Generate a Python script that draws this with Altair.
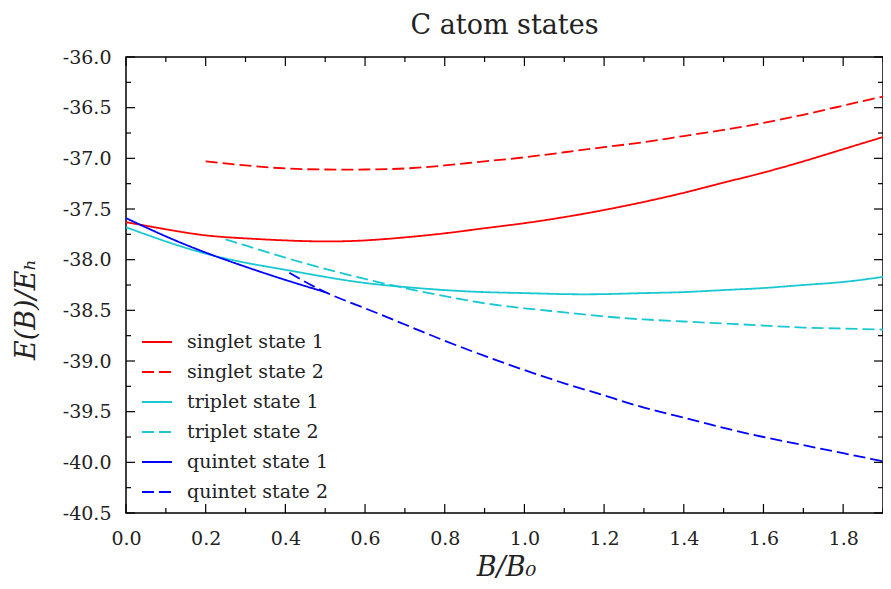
import altair as alt
import pandas as pd

# ---- data ----
B_full = [0.0, 0.1, 0.2, 0.3, 0.4, 0.5, 0.6, 0.7, 0.8, 0.9, 1.0,
          1.1, 1.2, 1.3, 1.4, 1.5, 1.6, 1.7, 1.8, 1.9]

singlet1_B = B_full
singlet1_E = [-37.63, -37.70, -37.76, -37.79, -37.81, -37.82, -37.81, -37.78, -37.74, -37.69,
              -37.64, -37.58, -37.51, -37.43, -37.34, -37.24, -37.14, -37.03, -36.91, -36.79]

singlet2_B = [0.2, 0.3, 0.4, 0.5, 0.6, 0.7, 0.8, 0.9, 1.0, 1.1, 1.2, 1.3, 1.4, 1.5, 1.6, 1.7, 1.8, 1.9]
singlet2_E = [-37.03, -37.07, -37.10, -37.11, -37.11, -37.10, -37.07, -37.03, -36.99, -36.94,
              -36.89, -36.84, -36.78, -36.72, -36.65, -36.57, -36.48, -36.39]

triplet1_B = B_full
triplet1_E = [-37.68, -37.82, -37.94, -38.03, -38.10, -38.17, -38.23, -38.27, -38.30, -38.32,
              -38.33, -38.34, -38.34, -38.33, -38.32, -38.30, -38.28, -38.25, -38.22, -38.17]

triplet2_B = [0.25, 0.3, 0.4, 0.5, 0.6, 0.7, 0.8, 0.9, 1.0, 1.1, 1.2, 1.3, 1.4, 1.5, 1.6, 1.7, 1.8, 1.9]
triplet2_E = [-37.80, -37.86, -37.98, -38.09, -38.19, -38.28, -38.36, -38.43, -38.48, -38.52,
              -38.56, -38.59, -38.61, -38.63, -38.65, -38.67, -38.68, -38.69]

quintet1_B = [0.0, 0.1, 0.2, 0.3, 0.4, 0.5]
quintet1_E = [-37.59, -37.77, -37.93, -38.07, -38.20, -38.32]

quintet2_B = [0.41, 0.5, 0.6, 0.7, 0.8, 0.9, 1.0, 1.1, 1.2, 1.3, 1.4, 1.5, 1.6, 1.7, 1.8, 1.9]
quintet2_E = [-38.13, -38.32, -38.48, -38.64, -38.80, -38.95, -39.09, -39.22, -39.34, -39.46,
              -39.56, -39.66, -39.75, -39.83, -39.91, -39.99]

series_names = ["singlet state 1", "singlet state 2", "triplet state 1",
                "triplet state 2", "quintet state 1", "quintet state 2"]
series_colors = ["#ff0000", "#ff0000", "#19c8d2", "#19c8d2", "#0000ff", "#0000ff"]
series_dash = [[1, 0], [12, 5], [1, 0], [12, 5], [1, 0], [12, 5]]

x_major = [0.0, 0.2, 0.4, 0.6, 0.8, 1.0, 1.2, 1.4, 1.6, 1.8]
x_minor = [0.1, 0.3, 0.5, 0.7, 0.9, 1.1, 1.3, 1.5, 1.7, 1.9]
y_major = [-40.5, -40.0, -39.5, -39.0, -38.5, -38.0, -37.5, -37.0, -36.5, -36.0]
y_minor = [-40.25, -39.75, -39.25, -38.75, -38.25, -37.75, -37.25, -36.75, -36.25]

# ---- build table ----
all_B = [singlet1_B, singlet2_B, triplet1_B, triplet2_B, quintet1_B, quintet2_B]
all_E = [singlet1_E, singlet2_E, triplet1_E, triplet2_E, quintet1_E, quintet2_E]
rows = []
for name, bs, es in zip(series_names, all_B, all_E):
    for b, e in zip(bs, es):
        rows.append({"B": b, "E": e, "series": name})
df = pd.DataFrame(rows)

W, H = 757, 456
FONT = "DejaVu Serif"

xscale = alt.Scale(domain=[0, 1.9], nice=False, zero=False)
yscale = alt.Scale(domain=[-40.5, -36.0], nice=False, zero=False)

label_expr = "datum.value < 0 ? '-' + format(-datum.value, '.1f') : format(datum.value, '.1f')"

common_axis = dict(ticks=False, domain=False, grid=False,
                   labelFont=FONT, labelFontSize=19, labelColor="#222",
                   titleFont=FONT, titleFontSize=27, titleFontStyle="italic",
                   titleFontWeight="normal", titleColor="#222",
                   labelFlush=False, labelOverlap=False, titleBaseline="alphabetic",
                   titleAlign="center")

lines = alt.Chart(df).mark_line(strokeWidth=1.8, interpolate="natural", clip=True).encode(
    x=alt.X("B:Q", scale=xscale,
            axis=alt.Axis(values=x_major, labelExpr=label_expr, title="B/B₀",
                          labelPadding=16, titleX=380, titleY=62, **common_axis)),
    y=alt.Y("E:Q", scale=yscale,
            axis=alt.Axis(values=y_major, labelExpr=label_expr, title="E(B)/Eₕ",
                          labelPadding=15, titleX=-92, titleY=252, titleAngle=270,
                          **common_axis)),
    color=alt.Color("series:N",
                    scale=alt.Scale(domain=series_names, range=series_colors),
                    sort=series_names,
                    legend=alt.Legend(title=None, orient="none", legendX=15, legendY=269,
                                      symbolType="stroke", symbolSize=900, symbolStrokeWidth=2,
                                      labelFont=FONT, labelFontSize=19, labelColor="#222",
                                      labelOffset=14, rowPadding=4, padding=0)),
    strokeDash=alt.StrokeDash("series:N",
                              scale=alt.Scale(domain=series_names, range=series_dash),
                              sort=series_names, legend=None),
    detail="series:N",
)

# ---- inward ticks, drawn through the shared scales ----
def xticks(vals, length, top):
    d = pd.DataFrame({"v": vals})
    if top:
        yy, yy2 = alt.value(0), alt.value(length)
    else:
        yy, yy2 = alt.value(H), alt.value(H - length)
    return alt.Chart(d).mark_rule(color="black", strokeWidth=1.2).encode(
        x=alt.X("v:Q", scale=xscale, axis=None), y=yy, y2=yy2)

def yticks(vals, length, right):
    d = pd.DataFrame({"v": vals})
    if right:
        xx, xx2 = alt.value(W), alt.value(W - length)
    else:
        xx, xx2 = alt.value(0), alt.value(length)
    return alt.Chart(d).mark_rule(color="black", strokeWidth=1.2).encode(
        y=alt.Y("v:Q", scale=yscale, axis=None), x=xx, x2=xx2)

tick_layers = [
    xticks(x_major, 9, False), xticks(x_minor, 5, False),
    xticks(x_major, 9, True), xticks(x_minor, 5, True),
    yticks(y_major, 9, False), yticks(y_minor, 5, False),
    yticks(y_major, 9, True), yticks(y_minor, 5, True),
]

chart = alt.layer(lines, *tick_layers).resolve_axis(
    x="independent", y="independent"
).properties(
    width=W, height=H,
    title=alt.TitleParams("C atom states", font=FONT, fontSize=27, fontWeight="normal",
                          color="#222", anchor="middle", offset=20, dy=33,
                          baseline="alphabetic"),
    autosize=alt.AutoSizeParams(type="none"),
    padding={"left": 118, "top": 49, "right": 0, "bottom": 68},
).configure(background="white").configure_view(
    stroke="black", strokeWidth=1.5
)

chart.save("out.html", embed_options={"renderer": "svg", "actions": False})
